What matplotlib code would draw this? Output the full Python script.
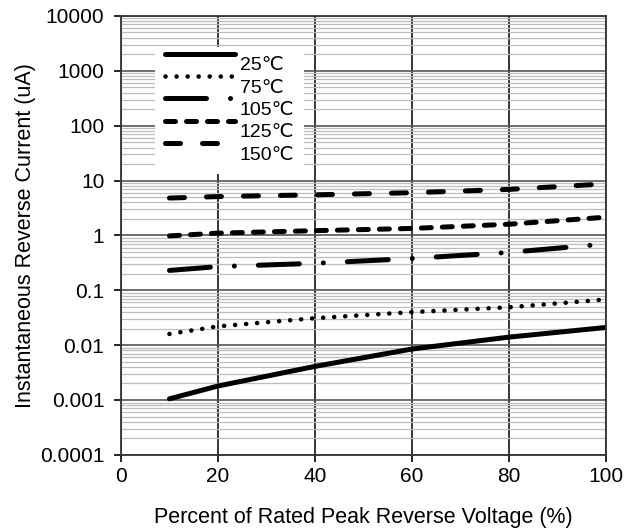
import matplotlib.pyplot as plt
from matplotlib.ticker import FixedLocator, LogLocator, NullFormatter
from matplotlib.legend_handler import HandlerLine2D

plt.rcParams['font.family'] = ['Liberation Sans', 'DejaVu Sans']

x = [10, 20, 40, 60, 80, 100]
i25 = [0.00105, 0.0018, 0.0041, 0.0085, 0.014, 0.021]
i75 = [0.016, 0.022, 0.031, 0.040, 0.049, 0.068]
i105 = [0.23, 0.27, 0.31, 0.38, 0.49, 0.70]
i125 = [0.98, 1.1, 1.22, 1.34, 1.6, 2.15]
i150 = [4.8, 5.1, 5.5, 6.0, 6.9, 8.7]
labels = ["25℃", "75℃", "105℃", "125℃", "150℃"]


# legend lines sit a bit above the label text in the original
class RaisedLine(HandlerLine2D):
    def create_artists(self, legend, orig_handle, xdescent, ydescent,
                       width, height, fontsize, trans):
        arts = super().create_artists(legend, orig_handle, xdescent, ydescent,
                                      width, height, fontsize, trans)
        for a in arts:
            a.set_ydata([y + 7 for y in a.get_ydata()])
        return arts


fig = plt.figure(figsize=(6.4, 5.32), dpi=100)
ax = fig.add_axes([0.189, 0.145, 0.758, 0.825])

lw = 3.6
ax.plot(x, i25, color='black', lw=lw, solid_capstyle='round', label=labels[0])
ax.plot(x, i75, color='black', lw=3.3, linestyle=(0, (0.01, 2.4)),
        dash_capstyle='round', label=labels[1])
ax.plot(x, i105, color='black', lw=lw, linestyle=(0, (8.2, 4.8, 0.01, 4.8)),
        dash_capstyle='round', label=labels[2])
ax.plot(x, i125, color='black', lw=lw, linestyle=(0, (2.0, 2.2)),
        dash_capstyle='round', label=labels[3])
ax.plot(x, i150, color='black', lw=lw, linestyle=(0, (3.0, 4.4)),
        dash_capstyle='round', label=labels[4])

ax.set_yscale('log')
ax.set_xlim(0, 100)
ax.set_ylim(0.0001, 10000)
ax.xaxis.set_major_locator(FixedLocator([0, 20, 40, 60, 80, 100]))
ax.set_yticks([1e-4, 1e-3, 1e-2, 1e-1, 1, 10, 100, 1000, 10000])
ax.set_yticklabels(["0.0001", "0.001", "0.01", "0.1", "1", "10", "100", "1000", "10000"])
ax.yaxis.set_minor_locator(LogLocator(base=10, subs=range(2, 10), numticks=20))
ax.yaxis.set_minor_formatter(NullFormatter())

ax.grid(True, which='minor', axis='y', color='#bdbdbd', lw=0.9)
ax.grid(True, which='major', axis='y', color='#555555', lw=1.2)
ax.grid(True, which='major', axis='x', color='black', lw=1.1)
ax.set_axisbelow(True)
for s in ax.spines.values():
    s.set_color('#333333')
    s.set_linewidth(1.3)

ax.tick_params(axis='both', which='major', labelsize=15, length=5, width=1.2,
               direction='out', pad=7)
ax.tick_params(axis='y', which='minor', length=0)
ax.tick_params(axis='x', pad=4)

ax.set_xlabel("Percent of Rated Peak Reverse Voltage (%)", fontsize=15.5, labelpad=15)
ax.set_ylabel("Instantaneous Reverse Current (uA)", fontsize=15.5, labelpad=3)

leg = ax.legend(loc='upper left', bbox_to_anchor=(0.05, 0.952), frameon=True, fancybox=False,
                edgecolor='none', facecolor='white', framealpha=1, fontsize=14,
                handlelength=3.6, handletextpad=0.25, labelspacing=0.25, borderpad=0.5,
                handler_map={plt.Line2D: RaisedLine()})

fig.savefig("out.png", dpi=100)
